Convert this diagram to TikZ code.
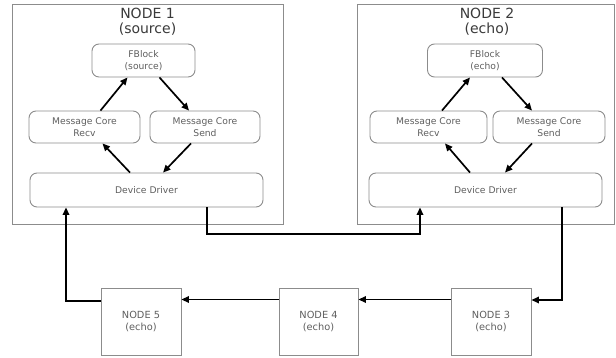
\documentclass[tikz,border=0pt]{standalone}
\usepackage{fontspec}
\setmainfont{DejaVu Sans}
\usetikzlibrary{arrows.meta,calc}
\definecolor{boxgray}{HTML}{8C8C8C}
\definecolor{txtgray}{HTML}{5E5E5E}
\definecolor{ttlgray}{HTML}{3A3A3A}
\begin{document}
\begin{tikzpicture}[x=1pt,y=-1pt,
  outerbox/.style={draw=boxgray,line width=0.9pt,inner sep=0pt},
  ttl/.style={text=ttlgray,align=center,inner sep=0pt,font=\fontsize{14}{15}\selectfont},
  innerbox/.style={draw=boxgray,line width=0.9pt,rounded corners=7pt,inner sep=0pt,
    text=txtgray,align=center,font=\fontsize{9.2}{12}\selectfont},
  plainbox/.style={draw=boxgray,line width=0.9pt,inner sep=0pt,minimum width=80pt,minimum height=67pt,
    text=txtgray,align=center,font=\fontsize{9.8}{12}\selectfont},
  arr/.style={line width=1.7pt,-{Triangle[length=7.5pt,width=6.5pt]}},
  lnk/.style={line width=1.7pt}]
\useasboundingbox (0,0) rectangle (616,358);
% NODE 1
\node[outerbox,minimum width=271pt,minimum height=220pt] (n1) at (147.5,114) {};
\node[ttl] (t1) at (147.5,21.5) {NODE 1\\(source)};
\node[innerbox,minimum width=103pt,minimum height=33pt] (fb1) at (143.5,60.5) {FBlock\\(source)};
\node[innerbox,minimum width=111pt,minimum height=32pt] (rv1) at (84.5,127) {Message Core\\Recv};
\node[innerbox,minimum width=110pt,minimum height=32pt] (sd1) at (205,127) {Message Core\\Send};
\node[innerbox,minimum width=233pt,minimum height=34pt] (dd1) at (146.5,190) {Device Driver};
\draw[arr] ([xshift=16pt]rv1.north) -- ([xshift=-16pt]fb1.south);
\draw[arr] ([xshift=16pt]fb1.south) -- ([xshift=-16pt]sd1.north);
\draw[arr] ([xshift=-14pt]sd1.south) -- ([xshift=16.5pt]dd1.north);
\draw[arr] ([xshift=-16.5pt]dd1.north) -- ([xshift=18pt]rv1.south);
% NODE 2
\node[outerbox,minimum width=257pt,minimum height=220pt] (n2) at (485.5,114) {};
\node[ttl] (t2) at (487,21.5) {NODE 2\\(echo)};
\node[innerbox,minimum width=115pt,minimum height=33pt] (fb2) at (485,60.5) {FBlock\\(echo)};
\node[innerbox,minimum width=117pt,minimum height=32pt] (rv2) at (428.5,127) {Message Core\\Recv};
\node[innerbox,minimum width=112pt,minimum height=32pt] (sd2) at (549,127) {Message Core\\Send};
\node[innerbox,minimum width=233pt,minimum height=34pt] (dd2) at (485.5,190) {Device Driver};
\draw[arr] ([xshift=13.5pt]rv2.north) -- ([xshift=-15pt]fb2.south);
\draw[arr] ([xshift=17pt]fb2.south) -- ([xshift=-17pt]sd2.north);
\draw[arr] ([xshift=-17pt]sd2.south) -- ([xshift=19.5pt]dd2.north);
\draw[arr] ([xshift=-15.5pt]dd2.north) -- ([xshift=16.5pt]rv2.south);
% bottom nodes
\node[plainbox] (n5) at (141,321.5) {NODE 5\\(echo)};
\node[plainbox,minimum width=79pt] (n4) at (318.5,321.5) {NODE 4\\(echo)};
\node[plainbox] (n3) at (491,321.5) {NODE 3\\(echo)};
% links
\coordinate (c1) at (207,234);
\coordinate (c2) at (420,234);
\draw[arr] ([xshift=60.5pt]dd1.south) |- (c1) -- (c2) -- ([xshift=-65.5pt]dd2.south);
\draw[arr] ([xshift=76.5pt]dd2.south) |- ([yshift=21.5pt]n3.east);
\draw[arr] ([yshift=22pt]n3.west) -- ([yshift=22pt]n4.east);
\draw[arr] ([yshift=22pt]n4.west) -- ([yshift=22pt]n5.east);
\coordinate (c3) at (66,301);
\draw[arr] ([yshift=20.5pt]n5.west) -- (c3) -- ([xshift=-80.5pt]dd1.south);
\end{tikzpicture}
\end{document}
